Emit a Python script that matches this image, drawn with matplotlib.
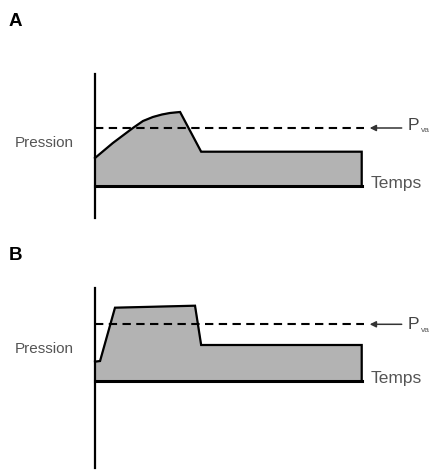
import matplotlib.pyplot as plt

# panel A: pressure curve (time, pressure), arbitrary units
time_a = [0, 0.67, 1.42, 1.8, 2.17, 2.51, 2.81, 3.19, 3.98, 10, 10]
pres_a = [2.77, 4.27, 5.77, 6.47, 6.87, 7.12, 7.27, 7.37, 3.4, 3.4, 0]
pva_a = 5.77

# panel B
time_b = [0, 0.19, 0.75, 3.75, 3.98, 10, 10]
pres_b = [1.9, 1.97, 7.3, 7.5, 3.57, 3.57, 0]
pva_b = 5.64

panels = ["A", "B"]
W, H = 432, 470


def draw_panel(ax, label, t, p, pva, ytop, ybot, axis_top, axis_bot,
               label_y, pres_y, pva_dy):
    # data coords: t in [xmin, xmax] spans full width; 1 unit of p = 10 px
    ax.set_xlim(-95 / 26.67, (W - 95) / 26.67)
    ax.set_ylim(ybot, ytop)
    ax.axis("off")

    tt = [0] + list(t)
    pp = [0] + list(p)
    ax.fill(tt, pp, color="#b3b3b3", zorder=1)
    ax.plot(t, p, color="black", lw=1.6, zorder=3, solid_joinstyle="miter")
    ax.plot([0, t[-1]], [0, 0], color="black", lw=2.2, zorder=3)
    ax.plot([0, 0], [axis_bot, axis_top], color="black", lw=1.6, zorder=4)
    ax.plot([0, 10.1], [pva, pva], color="black", lw=1.5, ls=(0, (4, 2.6)), zorder=2)

    ax.annotate("", xy=(10.3, pva), xytext=(11.5, pva),
                arrowprops=dict(arrowstyle="-|>", color="#333333", lw=1.1,
                                mutation_scale=9, shrinkA=0, shrinkB=0))
    ax.text(11.72, pva + pva_dy, "P", fontsize=12.5,
            color="#444444", va="baseline", ha="left", family="Liberation Sans")
    ax.text(12.22, pva + pva_dy - 0.25, "va", fontsize=6,
            color="#555555", va="baseline", ha="left", family="Liberation Sans")
    ax.text(10.35, -0.2, "Temps", fontsize=12.5, color="#555555",
            va="baseline", ha="left", family="Liberation Sans")
    ax.text(-3.0, pres_y, "Pression", fontsize=11, color="#555555",
            va="baseline", ha="left", family="Liberation Sans")
    ax.text(-2.98, label_y, label, fontsize=13.5, fontweight="bold",
            va="baseline", ha="center", family="Liberation Sans")


fig = plt.figure(figsize=(W / 100, H / 100), dpi=100)
ax1 = fig.add_axes([0, 0.5, 1, 0.5])
ax2 = fig.add_axes([0, 0, 1, 0.5])

draw_panel(ax1, panels[0], time_a, pres_a, pva_a, 18.57, -4.93, 11.17, -3.23,
           15.97, 3.87, -0.2)
draw_panel(ax2, panels[1], time_b, pres_b, pva_b, 14.57, -8.93, 9.3, -8.73,
           12.07, 2.77, -0.5)

fig.savefig("out.png", dpi=100)
